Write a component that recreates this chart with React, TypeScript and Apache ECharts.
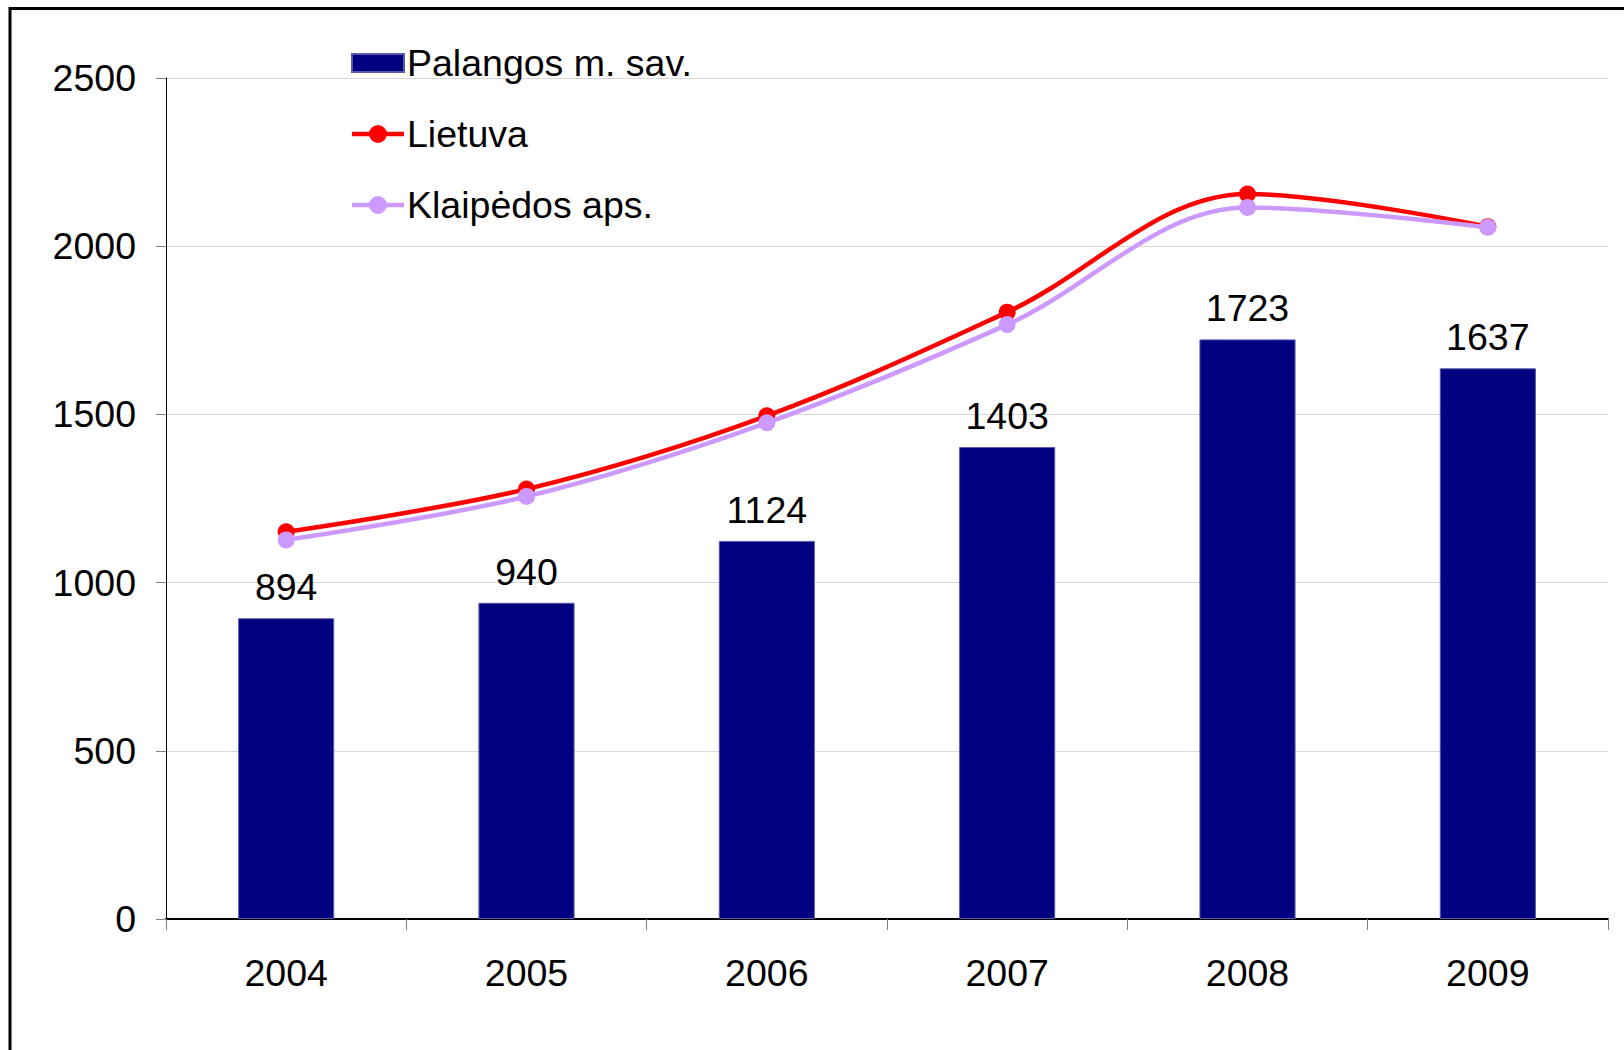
import React, { useEffect, useRef } from "react";
import * as echarts from "echarts";

const years = ["2004", "2005", "2006", "2007", "2008", "2009"];
const palanga = [894, 940, 1124, 1403, 1723, 1637];
const lietuva = [1151, 1278, 1496, 1804, 2155, 2058];
const klaipeda = [1127, 1256, 1475, 1767, 2115, 2056];
const yTicks = { min: 0, max: 2500, interval: 500 };

const FONT = "'Liberation Sans', Arial, sans-serif";
const FS = 37.5;
const LINE_ICON =
  "path://M0 6.8 L52 6.8 L52 11.2 L0 11.2 Z M17 9 A9 9 0 1 1 35 9 A9 9 0 1 1 17 9 Z";

export default function App() {
  const ref = useRef<HTMLDivElement>(null);
  useEffect(() => {
    if (!ref.current) return;
    const chart = echarts.init(ref.current, undefined, { renderer: "svg" });
    chart.setOption({
      animation: false,
      backgroundColor: "#ffffff",
      textStyle: { fontFamily: FONT },
      graphic: [
        {
          type: "rect",
          shape: { x: 10, y: 8.5, width: 1700, height: 1100 },
          style: { fill: "none", stroke: "#000", lineWidth: 3 },
          z: 100,
        },
      ],
      legend: {
        orient: "vertical",
        left: 346,
        top: 38,
        itemWidth: 52,
        itemHeight: 18,
        itemGap: 31,
        textStyle: { fontFamily: FONT, fontSize: FS, color: "#000", lineHeight: 40, padding: [0, 0, 0, -2] },
        data: [
          { name: "Palangos m. sav.", icon: "rect" },
          { name: "Lietuva", icon: LINE_ICON },
          { name: "Klaipėdos aps.", icon: LINE_ICON },
        ],
      },
      grid: { left: 166, right: 16, top: 78, bottom: 131, containLabel: false },
      xAxis: {
        type: "category",
        data: years,
        boundaryGap: true,
        axisLine: { lineStyle: { color: "#000", width: 2 } },
        axisTick: { show: true, length: 11, lineStyle: { color: "#808080" } },
        axisLabel: { fontFamily: FONT, fontSize: FS, color: "#000", margin: 35 },
      },
      yAxis: {
        type: "value",
        min: yTicks.min,
        max: yTicks.max,
        interval: yTicks.interval,
        axisLine: { show: true, lineStyle: { color: "#000", width: 1 } },
        axisTick: { show: true, length: 10, lineStyle: { color: "#808080" } },
        axisLabel: {
          fontFamily: FONT,
          fontSize: FS,
          color: "#000",
          margin: 30,
          formatter: (v: number) => String(v),
        },
        splitLine: { show: true, lineStyle: { color: "#d9d9d9", width: 1 } },
      },
      series: [
        {
          name: "Palangos m. sav.",
          type: "bar",
          data: palanga,
          barWidth: "40%",
          itemStyle: { color: "#000080", borderColor: "#5a5aa8", borderWidth: 1 },
          label: {
            show: true,
            position: "top",
            distance: 12,
            fontFamily: FONT,
            fontSize: FS,
            color: "#000",
          },
          z: 1,
        },
        {
          name: "Lietuva",
          type: "line",
          data: lietuva,
          smooth: 0.35,
          symbol: "circle",
          symbolSize: 17,
          lineStyle: { color: "#ff0000", width: 4.5 },
          itemStyle: { color: "#ff0000" },
          z: 3,
        },
        {
          name: "Klaipėdos aps.",
          type: "line",
          data: klaipeda,
          smooth: 0.35,
          symbol: "circle",
          symbolSize: 17,
          lineStyle: { color: "#cc99ff", width: 4.5 },
          itemStyle: { color: "#cc99ff" },
          z: 4,
        },
      ],
    });
    return () => chart.dispose();
  }, []);
  return (
    <div
      ref={ref}
      style={{ position: "absolute", left: 0, top: 0, width: 1624, height: 1050 }}
    />
  );
}
